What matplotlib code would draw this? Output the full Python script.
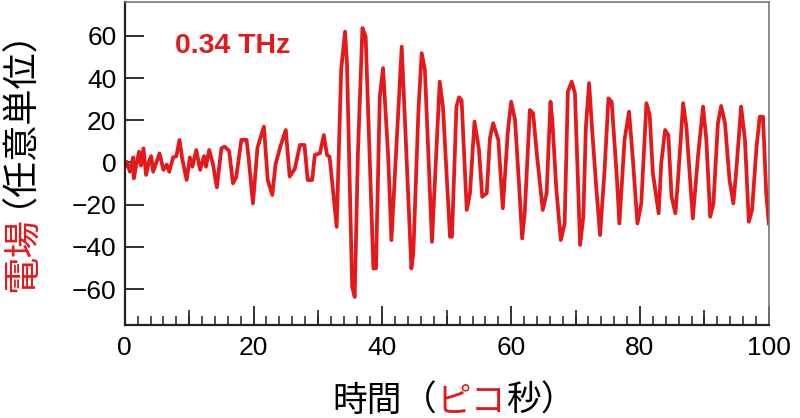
import matplotlib
matplotlib.use("Agg")
import matplotlib.pyplot as plt
from matplotlib.ticker import MultipleLocator

plt.rcParams['font.family'] = ['Liberation Sans', 'Noto Sans CJK JP', 'DejaVu Sans']

RED = '#e3191c'

# peaks, troughs and kinks
time_ps = [0.0, 0.3, 0.8, 1.3, 1.4, 1.8, 2.2, 2.5, 2.9, 3.3, 3.8, 4.1, 4.4, 4.9,
           5.4, 6.0, 6.5, 6.9, 7.5, 8.0, 8.5, 8.9, 9.6, 10.1, 10.5, 11.1, 11.7,
           12.3, 12.6, 13.1, 13.7, 14.3, 15.0, 15.5, 16.2, 16.8, 17.3, 18.1,
           18.9, 19.2, 19.9, 20.6, 21.6, 22.2, 22.9, 23.4, 24.2, 25.0, 25.6,
           26.4, 27.2, 27.9, 28.4, 29.1, 29.5, 30.3, 30.9, 31.4, 31.8, 32.9,
           33.6, 34.2, 34.5, 35.3, 35.7, 36.2, 36.9, 37.4, 38.6, 39.0, 39.6,
           40.1, 40.9, 41.4, 43.0, 44.5, 44.8, 45.6, 46.1, 46.6, 47.7, 48.9,
           49.4, 50.5, 50.8, 51.5, 51.9, 52.3, 52.5, 53.1, 53.6, 54.3, 55.0,
           55.5, 56.2, 56.7, 57.2, 58.0, 58.7, 59.5, 60.0, 60.6, 61.3, 61.7,
           62.1, 62.9, 63.4, 64.0, 64.9, 65.5, 66.1, 66.4, 67.0, 67.7, 68.3,
           68.8, 69.4, 69.9, 70.7, 71.2, 71.6, 72.1, 72.5, 73.2, 73.8, 74.5,
           75.1, 75.6, 76.4, 76.8, 77.6, 78.3, 78.9, 79.6, 80.2, 81.0, 81.5,
           82.0, 82.9, 83.3, 83.9, 84.4, 84.9, 85.5, 85.9, 86.7, 87.2, 88.2,
           89.0, 89.8, 90.3, 90.9, 91.4, 92.1, 92.6, 93.2, 93.9, 94.5, 95.0,
           95.7, 96.3, 96.9, 97.4, 98.1, 98.6, 99.1, 99.6, 100.0]
field = [-2, 0.3, -4.4, 2.4, -7.5, -1, 5.1, -1.5, 6.7, -5.9, 1, 3, -4.4, 0,
         4.3, -3.5, -1, -4.4, 2.4, 3, 10.7, 2, -8.3, 2.4, -2, 5.9, -3.5,
         3, -2, 5.9, -1, -11.8, 6.7, 7.5, 5.5, -9.9, -7, 10.7,
         10.7, 3, -19.4, 7, 17, -8.3, -15.4, -1, 8, 15.4, -6.7,
         -3, 8.3, 8.3, -8.3, -8.3, 3.5, 4.4, 13, 3.5, 2.8, -30.5,
         43.9, 62, 47, -58.9, -63.7, 4.4, 63.7, 59.7, -50.2, -50.2, 31.2,
         44.7, 2.8, -36.8, 54.9, -50.2, -43.1, 24.9, 51.8, 43.9, -37.6, 38.3,
         26.5, -35.2, -35.2, 26.5, 30.9, 29.6, 16.2, -22.5, -14.6, 19.4, 6,
         -16.2, -14.6, 11.5, 18.6, 10.7, -21.7, 15.4, 28.8, 20, -14.6, -36,
         -24, 24.9, 23.3, 3.5, -22.5, -14.6, 28.8, 19.4, -12.2, -36.8, -28.9,
         33.6, 38.3, 32.8, -39.1, -25.7, 17, 37.6, 18.6, -11.5, -34.4, -3.6,
         30.4, 28.8, -6.7, -28.9, 10.7, 24.1, 1.2, -28.9, -19.4, 28.1, 22.5,
         -5.1, -24.1, -0.4, 15.4, 13, -16.2, -24.1, -8.3, 28.1, 17, -26.5,
         2.8, 26.5, 10.7, -25.7, -19.4, 18.6, 26.8, 18.6, -8.3, -19.4, -2,
         26.5, 10.7, -28.1, -22.5, 7.5, 21.7, 21.7, -14.6, -28.9]

y_ticks = [-60, -40, -20, 0, 20, 40, 60]
x_ticks = [0, 20, 40, 60, 80, 100]
mid_ticks = [10, 30, 50, 70, 90]


def put_pieces(fig, pieces, cx, cy, vertical=False, gap=0):
    # lay coloured pieces of one label end to end, centred on (cx, cy);
    # each piece: (text, colour, size, sideways nudge in px)
    renderer = fig.canvas.get_renderer()
    texts = []
    total = 0
    for s, c, size, nudge in pieces:
        t = fig.text(0, 0, s, color=c, fontsize=size,
                     rotation=90 if vertical else 0,
                     rotation_mode='anchor',
                     family=['Noto Sans CJK JP', 'DejaVu Sans'],
                     ha='left', va='baseline' if vertical else 'center')
        bb = t.get_window_extent(renderer)
        ext = (bb.height if vertical else bb.width) + gap
        texts.append((t, ext, nudge))
        total += ext
    total -= gap
    W, H = fig.bbox.width, fig.bbox.height
    pos = (cy * H if vertical else cx * W) - total / 2
    for t, ext, nudge in texts:
        if vertical:
            t.set_position((cx + nudge / W, pos / H))
        else:
            t.set_position((pos / W, cy + nudge / H))
        pos += ext


fig = plt.figure(figsize=(8, 4.18), dpi=100)
ax = fig.add_axes([0.156, 0.2225, 0.805, 0.7725])

ax.plot(time_ps, field, color=RED, lw=2.7, solid_joinstyle='round')

ax.set_xlim(0, 100)
ax.set_ylim(-77, 76)
ax.set_xticks(x_ticks)
ax.set_yticks(y_ticks)
ax.xaxis.set_minor_locator(MultipleLocator(2))
ax.tick_params(axis='both', which='major', direction='in', length=13.5,
               width=1.3, labelsize=19, color='#222222')
ax.tick_params(axis='x', which='minor', direction='in', length=6.5,
               width=1.1, color='#222222')
ax.tick_params(axis='x', which='major', pad=8)
ax.tick_params(axis='y', which='major', pad=6)
ax.tick_params(top=False, right=False)

sec = ax.secondary_xaxis('bottom')
sec.set_xticks(mid_ticks)
sec.tick_params(direction='in', length=10.5, width=1.2, labelbottom=False,
                color='#222222')
sec.spines['bottom'].set_visible(False)

for side in ['left', 'bottom']:
    ax.spines[side].set_linewidth(1.6)
    ax.spines[side].set_color('#222222')
for side in ['top', 'right']:
    ax.spines[side].set_linewidth(1.2)
    ax.spines[side].set_color('#777777')

ax.text(7.8, 55, '0.34 THz', color=RED, fontsize=20.5, fontweight='bold',
        ha='left', va='center')

fig.canvas.draw()
put_pieces(fig, [('時間', 'black', 25, 0), ('（', 'black', 25, 0),
                 ('ピコ', RED, 25, 0), ('秒）', 'black', 25, 0)], 0.568, 0.04)
put_pieces(fig, [('電場', RED, 27, 1), ('（任意単位）', 'black', 26, -23)],
           0.041, 0.6615, vertical=True, gap=10)

fig.savefig('out.png', dpi=100)
